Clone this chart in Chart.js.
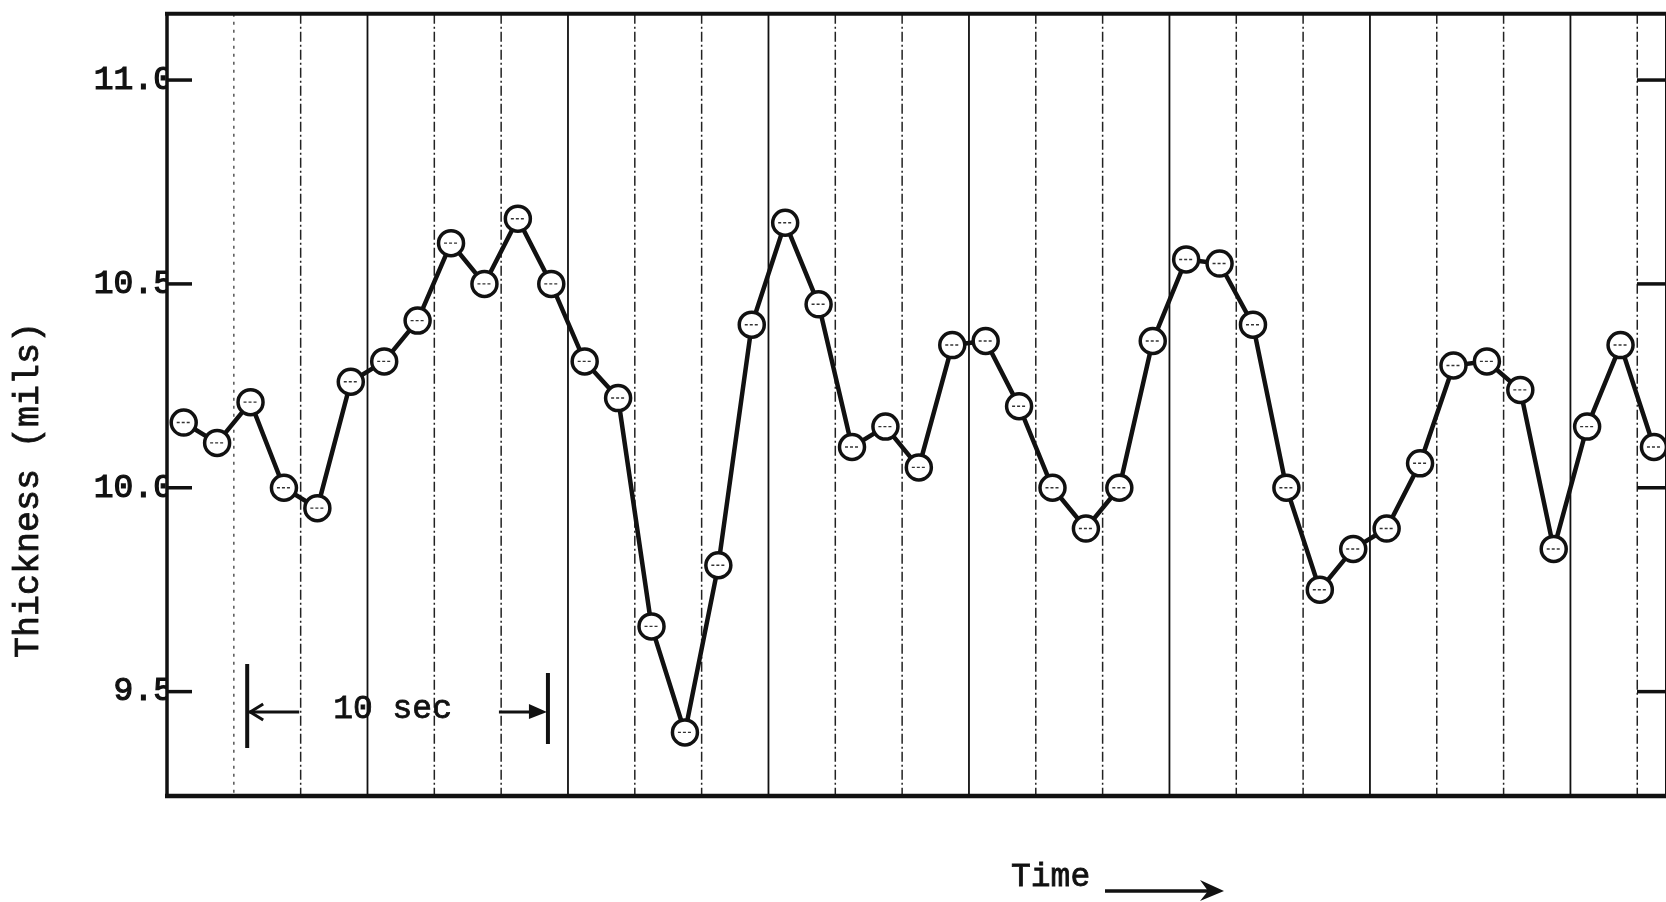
<!DOCTYPE html>
<html>
<head>
<meta charset="utf-8">
<script src="https://cdn.jsdelivr.net/npm/chart.js@4.4.1/dist/chart.umd.min.js"></script>
<style>
  html, body { margin: 0; padding: 0; background: #fff; overflow: hidden; }
  canvas { display: block; }
</style>
</head>
<body>
<canvas id="c" width="1666" height="902"></canvas>
<script>
// Film thickness readings, one per sample, in mils
const thickness = [
  10.16, 10.11, 10.21, 10.00, 9.95, 10.26, 10.31, 10.41, 10.60, 10.50,
  10.66, 10.50, 10.31, 10.22, 9.66, 9.40, 9.81, 10.40, 10.65, 10.45,
  10.10, 10.15, 10.05, 10.35, 10.36, 10.20, 10.00, 9.90, 10.00, 10.36,
  10.56, 10.55, 10.40, 10.00, 9.75, 9.85, 9.90, 10.06, 10.30, 10.31,
  10.24, 9.85, 10.15, 10.35, 10.10
];
const yTickValues = [9.5, 10.0, 10.5, 11.0];
const yTickLabels = ['9.5', '10.0', '10.5', '11.0'];
const axisTitle = 'Thickness (mils)';
const timeLabel = 'Time';
// bracket marking a 10 second span, in sample units along the time axis
const spanMarker = { from: 1.9, to: 10.9, level: 9.45, label: '10 sec' };

const INK = '#111';
const FONT = '"Liberation Mono", "Courier New", monospace';

const points = thickness.map((v, i) => ({ x: i, y: v }));

// typewriter-weight text: fill plus a thin outline
function typeText(ctx, text, x, y) {
  ctx.fillText(text, x, y);
  ctx.strokeText(text, x, y);
}

const framePlugin = {
  id: 'frame',
  beforeDatasetsDraw(chart) {
    const { ctx, chartArea: a, scales: { x } } = chart;
    ctx.save();
    x.ticks.forEach(t => {
      const v = t.value;
      if (v <= x.min) return;
      const px = x.getPixelForValue(v);
      const solid = Math.round(v + 0.5) % 6 === 0;
      ctx.beginPath();
      ctx.strokeStyle = solid ? '#111' : (v < 2 ? '#555' : '#222');
      ctx.lineWidth = solid ? 1.8 : 1.5;
      ctx.setLineDash(solid ? [] : (v < 2 ? [3, 5] : [10, 3, 2, 3]));
      ctx.moveTo(px, a.top);
      ctx.lineTo(px, a.bottom);
      ctx.stroke();
    });
    ctx.restore();
  },
  afterDatasetsDraw(chart) {
    const { ctx, chartArea: a, scales: { x, y } } = chart;
    ctx.save();

    // small dashes printed inside each plotting symbol
    const meta = chart.getDatasetMeta(0);
    ctx.strokeStyle = '#333';
    ctx.lineWidth = 1.4;
    ctx.setLineDash([3, 2]);
    meta.data.forEach(p => {
      ctx.beginPath();
      ctx.moveTo(p.x - 7, p.y);
      ctx.lineTo(p.x + 6, p.y);
      ctx.stroke();
    });
    ctx.setLineDash([]);

    // frame
    ctx.strokeStyle = INK;
    ctx.fillStyle = INK;
    ctx.lineCap = 'butt';
    ctx.lineWidth = 4;
    ctx.beginPath(); ctx.moveTo(a.left - 2, a.top); ctx.lineTo(a.right, a.top); ctx.stroke();
    ctx.lineWidth = 4.5;
    ctx.beginPath(); ctx.moveTo(a.left - 2, a.bottom); ctx.lineTo(a.right, a.bottom); ctx.stroke();
    ctx.lineWidth = 3.5;
    ctx.beginPath(); ctx.moveTo(a.left, a.top); ctx.lineTo(a.left, a.bottom); ctx.stroke();
    ctx.lineWidth = 2;
    ctx.beginPath(); ctx.moveTo(a.right, a.top); ctx.lineTo(a.right, a.bottom); ctx.stroke();

    // inward tick marks on both sides
    ctx.lineWidth = 3.5;
    yTickValues.forEach(v => {
      const py = y.getPixelForValue(v);
      ctx.beginPath(); ctx.moveTo(a.left, py); ctx.lineTo(a.left + 25, py); ctx.stroke();
      ctx.beginPath(); ctx.moveTo(a.right - 29, py); ctx.lineTo(a.right, py); ctx.stroke();
    });

    // 10 second bracket
    const x1 = x.getPixelForValue(spanMarker.from);
    const x2 = x.getPixelForValue(spanMarker.to);
    const ym = y.getPixelForValue(spanMarker.level);
    ctx.lineWidth = 4;
    ctx.beginPath(); ctx.moveTo(x1, ym - 48); ctx.lineTo(x1, ym + 36); ctx.stroke();
    ctx.beginPath(); ctx.moveTo(x2, ym - 39); ctx.lineTo(x2, ym + 32); ctx.stroke();
    ctx.lineWidth = 3;
    ctx.beginPath(); ctx.moveTo(x1 + 2, ym); ctx.lineTo(x1 + 52, ym); ctx.stroke();
    ctx.beginPath(); ctx.moveTo(x1 + 16, ym - 8); ctx.lineTo(x1 + 3, ym); ctx.lineTo(x1 + 16, ym + 8); ctx.stroke();
    ctx.beginPath(); ctx.moveTo(x2 - 49, ym); ctx.lineTo(x2 - 12, ym); ctx.stroke();
    ctx.beginPath(); ctx.moveTo(x2 - 19, ym - 8); ctx.lineTo(x2 - 1, ym); ctx.lineTo(x2 - 19, ym + 7); ctx.closePath(); ctx.fill();

    ctx.lineWidth = 0.8;
    ctx.font = '33px ' + FONT;
    ctx.textAlign = 'center';
    ctx.textBaseline = 'middle';
    typeText(ctx, spanMarker.label, (x1 + x2) / 2 - 5, ym - 3);

    // axis titles
    ctx.font = '35px ' + FONT;
    ctx.save();
    ctx.translate(29, 490);
    ctx.rotate(-Math.PI / 2);
    typeText(ctx, axisTitle, 0, 0);
    ctx.restore();

    ctx.font = '33px ' + FONT;
    ctx.textAlign = 'left';
    ctx.textBaseline = 'alphabetic';
    typeText(ctx, timeLabel, 1011, 886);
    ctx.lineWidth = 3.5;
    ctx.beginPath(); ctx.moveTo(1105, 891); ctx.lineTo(1210, 891); ctx.stroke();
    ctx.beginPath();
    ctx.moveTo(1200, 880); ctx.lineTo(1224, 891); ctx.lineTo(1200, 901); ctx.lineTo(1208, 891); ctx.closePath();
    ctx.fill();

    ctx.restore();
  }
};

new Chart(document.getElementById('c'), {
  type: 'line',
  data: {
    datasets: [{
      data: points,
      borderColor: INK,
      borderWidth: 4.5,
      pointRadius: 12.5,
      pointBorderWidth: 3.5,
      pointBackgroundColor: '#fff',
      pointBorderColor: INK,
      tension: 0,
      clip: false
    }]
  },
  options: {
    responsive: false,
    animation: false,
    devicePixelRatio: 1,
    layout: { autoPadding: false, padding: { top: 13, right: 0, bottom: 0, left: 0 } },
    plugins: { legend: { display: false }, tooltip: { enabled: false } },
    scales: {
      x: {
        type: 'linear',
        min: -0.5,
        max: 44.36,
        afterBuildTicks(scale) {
          const t = [];
          for (let v = scale.min; v <= scale.max; v += 2) t.push({ value: v });
          scale.ticks = t;
        },
        afterFit(scale) { scale.height = 106; },
        ticks: { display: false },
        grid: { display: false, drawTicks: false },
        border: { display: false }
      },
      y: {
        type: 'linear',
        min: 9.244,
        max: 11.1625,
        afterBuildTicks(scale) { scale.ticks = yTickValues.map(v => ({ value: v })); },
        afterFit(scale) { scale.width = 167; },
        ticks: {
          callback: (v, i) => yTickLabels[i],
          font: { family: FONT, size: 33 },
          color: INK,
          textStrokeColor: INK,
          textStrokeWidth: 1.2,
          padding: -6
        },
        grid: { display: false, drawTicks: false },
        border: { display: false }
      }
    }
  },
  plugins: [framePlugin]
});
</script>
</body>
</html>
